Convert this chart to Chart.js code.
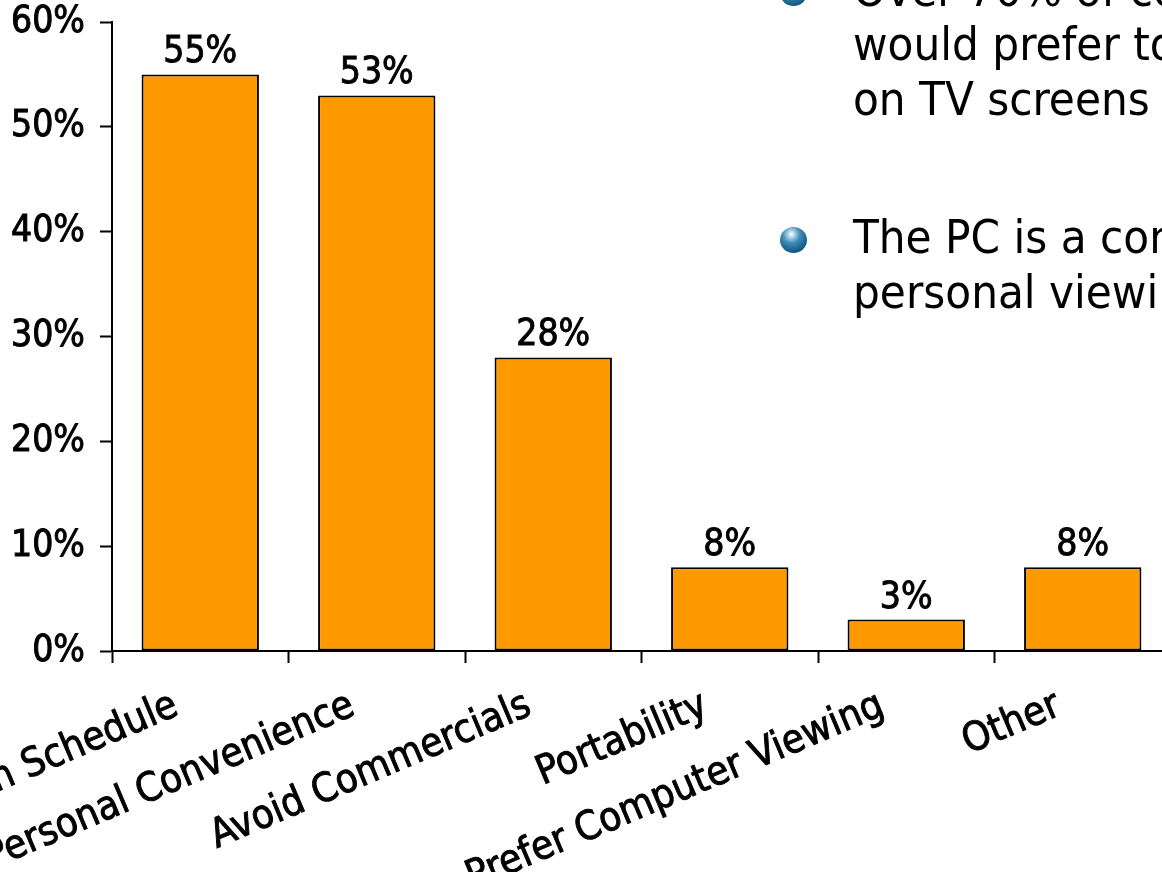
<!DOCTYPE html>
<html>
<head>
<meta charset="utf-8">
<script src="https://cdn.jsdelivr.net/npm/chart.js@4/dist/chart.umd.min.js"></script>
<style>
    html, body {
        margin: 0;
        padding: 0;
        background: #fff;
        overflow: hidden;
        width: 1162px;
        height: 872px;
    }
    #wrap {
        position: relative;
        width: 1162px;
        height: 872px;
        overflow: hidden;
    }
    #chartReasons {
        position: absolute;
        left: 0;
        top: 0;
    }
    .line {
        position: absolute;
        left: 853px;
        white-space: nowrap;
        font-family: "DejaVu Sans Condensed", "Open Sans", sans-serif;
        font-size: 47px;
        line-height: 48px;
        color: #000;
    }
    .bullet {
        position: absolute;
        left: 780px;
        width: 27px;
        height: 26px;
        border-radius: 50%;
        background: radial-gradient(circle at 42% 28%, #ffffff 0%, #c6e0ee 10%, #3f8cb7 36%, #17618a 68%, #0a3d5c 100%);
    }
</style>
</head>
<body>
<div id="wrap">
    <canvas id="chartReasons" width="1180" height="872"></canvas>

    <div class="bullet" style="top:-20px"></div>
    <div class="line" style="top:-34px">Over 70% of consumers</div>
    <div class="line" style="top:20px">would prefer to watch</div>
    <div class="line" style="top:75px">on TV screens</div>

    <div class="bullet" style="top:227px"></div>
    <div class="line" style="top:213px">The PC is a convenient</div>
    <div class="line" style="top:268px">personal viewing device</div>
</div>

<script>
    // CHART DATA
    var categories = ["Watch on Own Schedule", "Personal Convenience", "Avoid Commercials",
        "Portability", "Prefer Computer Viewing", "Other"];
    var shares = [55, 53, 28, 8, 3, 8];
    var yTickValues = [0, 10, 20, 30, 40, 50, 60];

    var chartFont = "'DejaVu Sans Condensed', 'Liberation Sans', sans-serif";
    var textStroke = 0.9;

    // VALUE LABELS ABOVE THE BARS
    var valueLabels = {
        id: 'valueLabels',
        afterDatasetsDraw: function(chart) {
            var ctx = chart.ctx;
            var meta = chart.getDatasetMeta(0);
            ctx.save();
            ctx.font = "37px " + chartFont;
            ctx.fillStyle = "#000";
            ctx.strokeStyle = "#000";
            ctx.lineWidth = textStroke;
            ctx.textAlign = "center";
            ctx.textBaseline = "alphabetic";
            for (var i = 0; i < meta.data.length; i++) {
                var bar = meta.data[i];
                ctx.fillText(shares[i] + "%", bar.x, bar.y - 12);
                ctx.strokeText(shares[i] + "%", bar.x, bar.y - 12);
            }
            ctx.restore();
        }
    };

    // ROTATED CATEGORY LABELS (right end hangs under each bar)
    var slantedLabels = {
        id: 'slantedLabels',
        afterDraw: function(chart) {
            var ctx = chart.ctx;
            var xScale = chart.scales.x;
            ctx.save();
            ctx.font = "40px " + chartFont;
            ctx.fillStyle = "#000";
            ctx.strokeStyle = "#000";
            ctx.lineWidth = textStroke;
            ctx.textAlign = "right";
            ctx.textBaseline = "alphabetic";
            for (var i = 0; i < categories.length; i++) {
                var px = xScale.getPixelForValue(i);
                ctx.save();
                ctx.translate(px - 20, xScale.bottom + 51);
                ctx.rotate(-23 * Math.PI / 180);
                ctx.fillText(categories[i], 0, 0);
                ctx.strokeText(categories[i], 0, 0);
                ctx.restore();
            }
            ctx.restore();
        }
    };

    var ctx = document.getElementById("chartReasons").getContext('2d');
    var reasonsChart = new Chart(ctx, {
        type: 'bar',
        data: {
            labels: categories,
            datasets: [{
                data: shares,
                backgroundColor: "#FF9900",
                borderColor: "#000",
                borderWidth: 2,
                borderSkipped: false,
                barPercentage: 1,
                categoryPercentage: 0.665
            }]
        },
        options: {
            responsive: false,
            animation: false,
            devicePixelRatio: 1,
            layout: {
                padding: { left: 11, right: 9, top: 22, bottom: 209 }
            },
            plugins: {
                legend: { display: false },
                tooltip: { enabled: false }
            },
            scales: {
                x: {
                    offset: true,
                    grid: {
                        offset: true,
                        drawOnChartArea: false,
                        drawTicks: true,
                        tickLength: 12,
                        tickWidth: 2,
                        color: "#000"
                    },
                    border: { display: true, color: "#000", width: 2 },
                    ticks: { display: false },
                    afterFit: function(axis) {
                        axis.paddingLeft = 0;
                        axis.paddingRight = 0;
                    }
                },
                y: {
                    min: 0,
                    max: 60,
                    afterBuildTicks: function(axis) {
                        axis.ticks = yTickValues.map(function(v) { return { value: v }; });
                    },
                    afterFit: function(axis) {
                        axis.width = 101;
                        axis.paddingTop = 0;
                        axis.paddingBottom = 0;
                    },
                    grid: {
                        drawOnChartArea: false,
                        drawTicks: true,
                        tickLength: 12,
                        tickWidth: 2,
                        color: "#000"
                    },
                    border: { display: true, color: "#000", width: 2 },
                    ticks: {
                        padding: 15,
                        color: "#000",
                        textStrokeColor: "#000",
                        textStrokeWidth: textStroke,
                        font: { family: chartFont, size: 37 },
                        callback: function(value) { return value + "%"; }
                    }
                }
            }
        },
        plugins: [valueLabels, slantedLabels]
    });
</script>
</body>
</html>
